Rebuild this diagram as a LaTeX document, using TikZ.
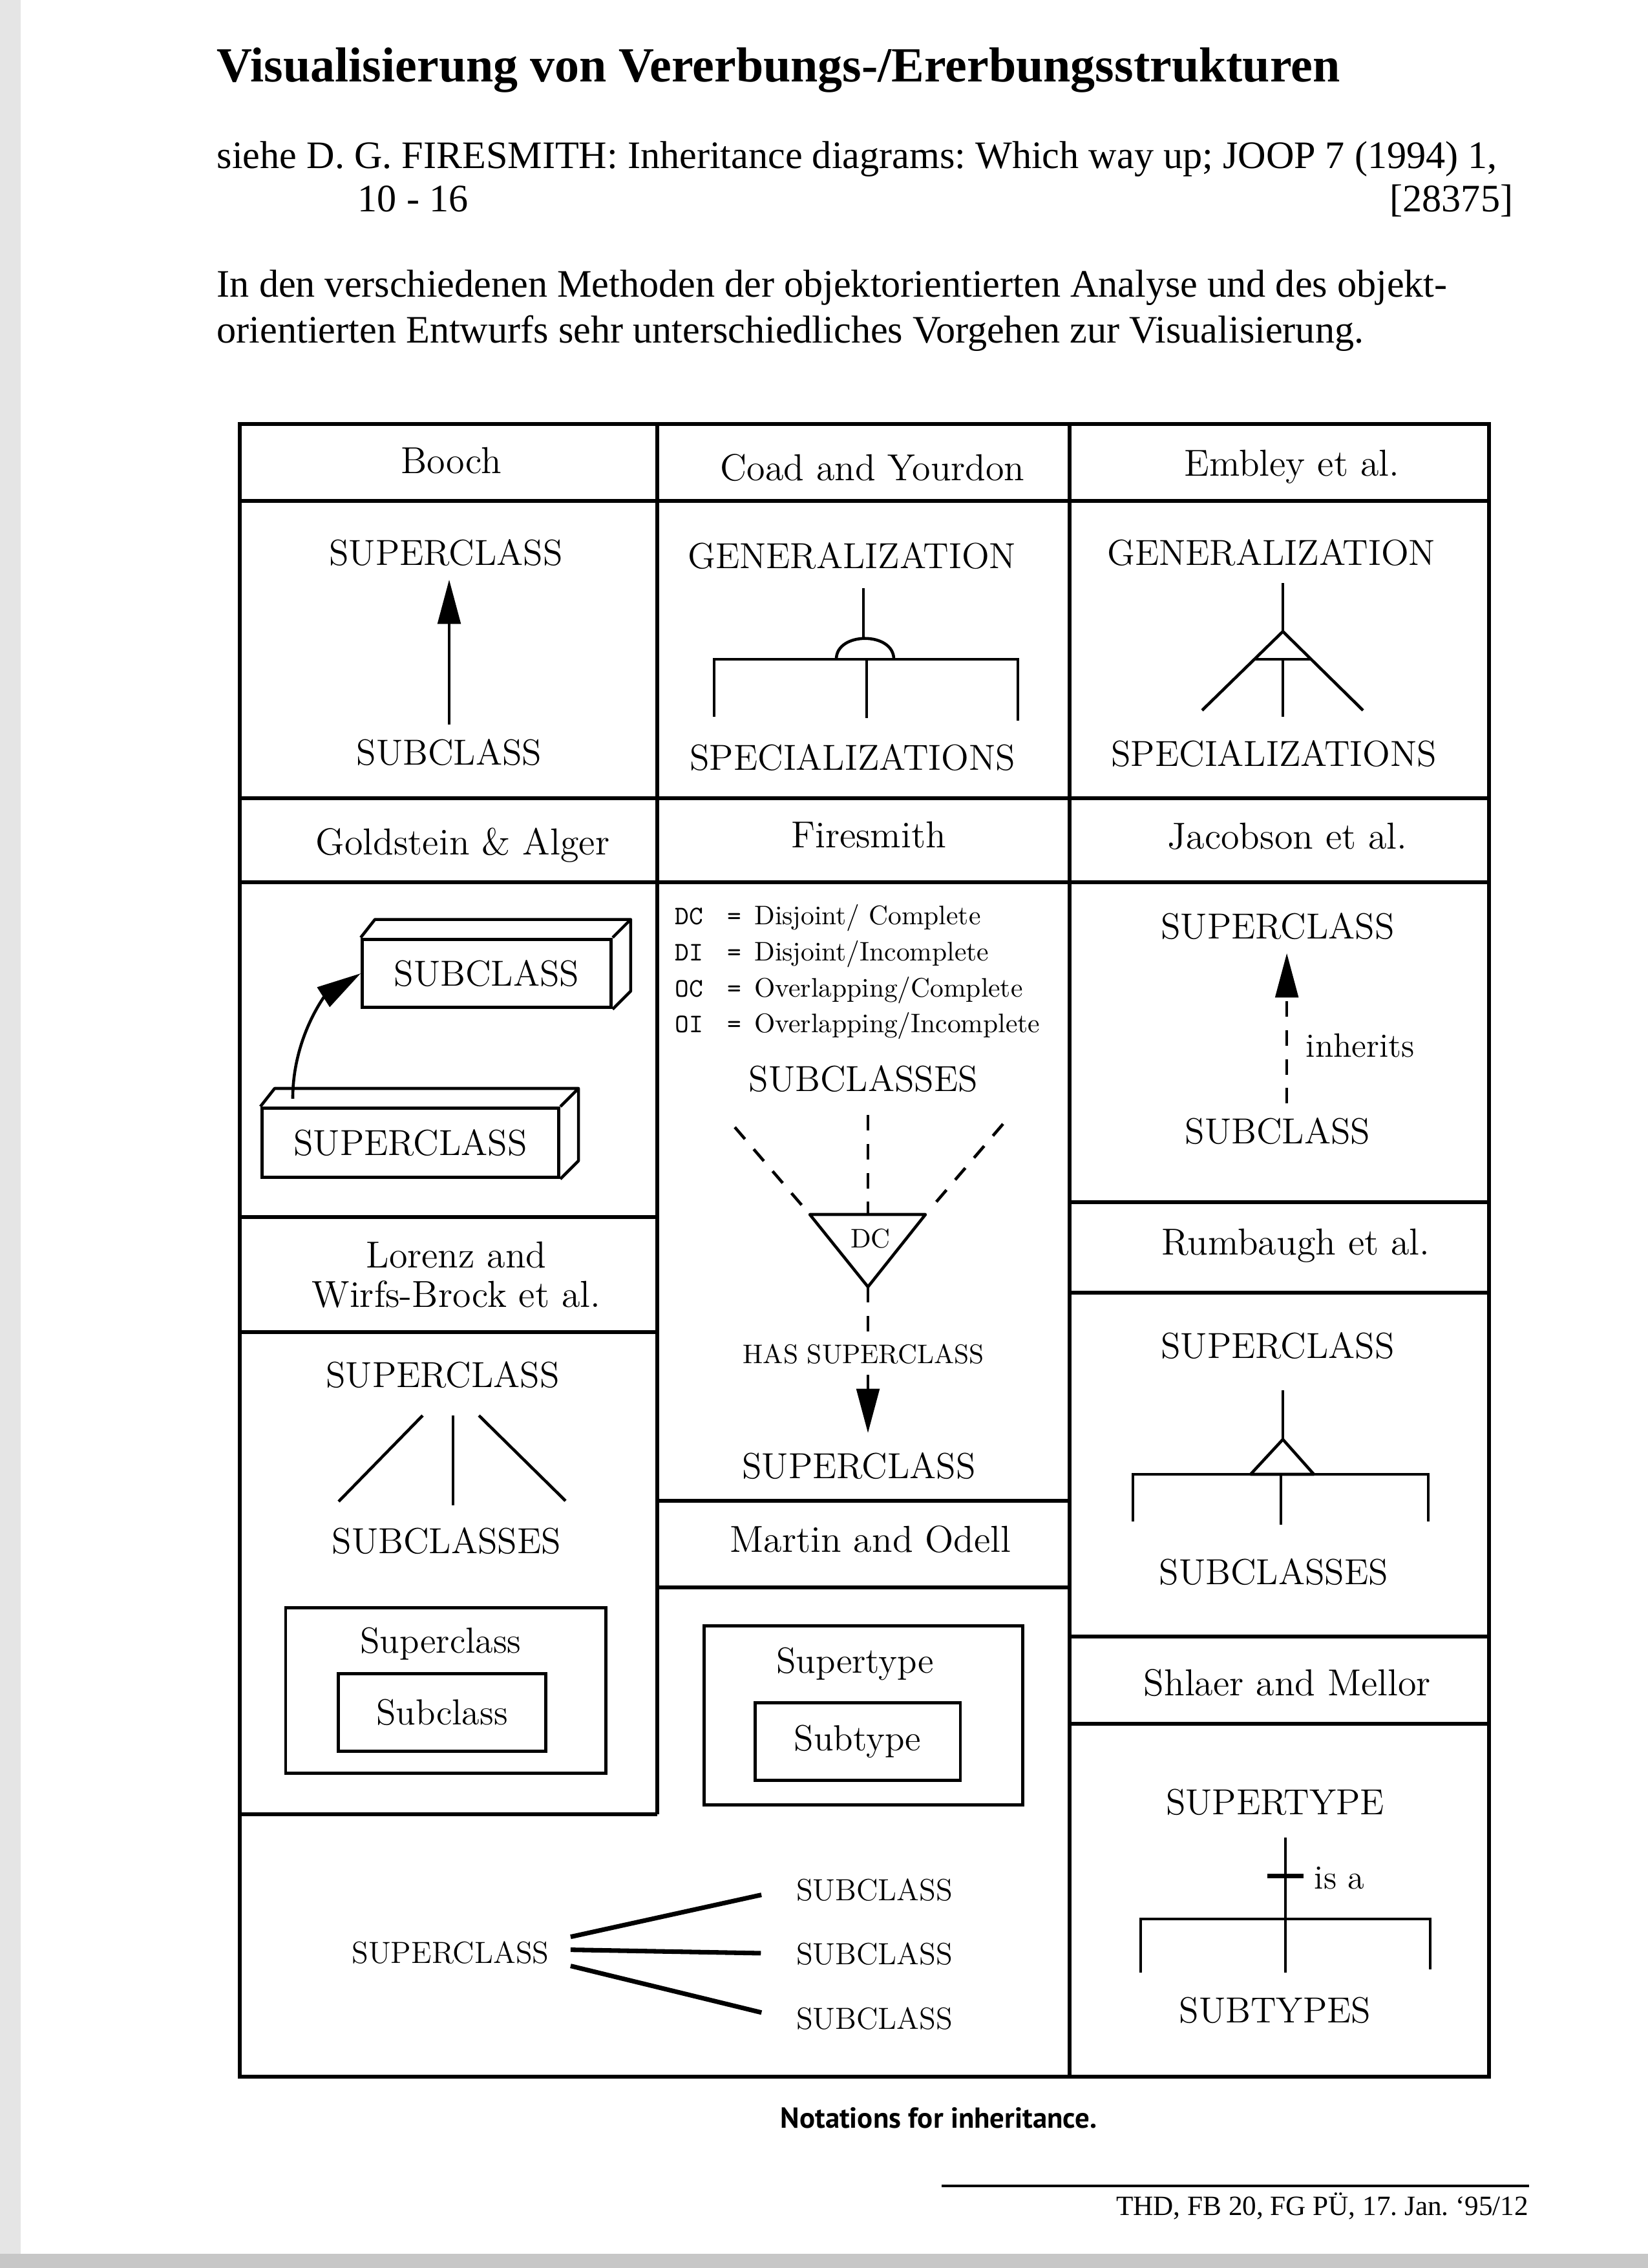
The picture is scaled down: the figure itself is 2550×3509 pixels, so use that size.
\documentclass[tikz,border=0pt]{standalone}
\usepackage{fontspec}
\usepackage{tikz}
\usetikzlibrary{positioning, calc, arrows.meta}
\newfontfamily\timesfont{Liberation Serif}
\newfontfamily\capfont{PT Sans}
\newcommand{\legab}[1]{\makebox[19.5pt][l]{\ttfamily #1}\makebox[10pt][l]{\ttfamily =}}
\frenchspacing

\begin{document}
\begin{tikzpicture}[
    x=0.0846667mm, y=-0.0846667mm,
    tabline/.style={line width=1.5pt},
    ln/.style={line width=1.1pt},
    boxline/.style={draw, line width=1.2pt},
    fanline/.style={line width=1.7pt},
    tri/.style={ln, -{Triangle[length=16.5pt, width=8.5pt]}},
    dsh/.style={ln, dash pattern=on 5.8pt off 5pt},
    hdr/.style={font=\fontsize{14}{14.7}\selectfont, anchor=base, inner sep=0pt},
    lbl/.style={font=\fontsize{13.5}{16}\selectfont, anchor=base, inner sep=5pt},
    word/.style={font=\fontsize{12.6}{15}\selectfont, anchor=base west, inner sep=0pt},
    note/.style={font=\fontsize{10}{12}\selectfont, anchor=base, inner sep=4pt},
    legrow/.style={font=\fontsize{10}{12}\selectfont, anchor=base west, inner sep=0pt},
    fanlbl/.style={font=\fontsize{11.4}{14}\selectfont, anchor=base, inner sep=4pt},
    pagetxt/.style={font=\timesfont\fontsize{14.5}{17}\selectfont, inner sep=0pt},
]
\useasboundingbox (0,0) rectangle (2550,3509);

% scan edges
\fill[black!10] (0,0) rectangle (32,3509);
\fill[black!22] (0,3487) rectangle (2550,3509);

% page text
\node[pagetxt, font=\timesfont\bfseries\fontsize{18.3}{21}\selectfont, anchor=base west] (title) at (335,126) {Visualisierung von Vererbungs-/Ererbungsstrukturen};
\node[pagetxt, anchor=base west] (ref1) at (335,260) {siehe D. G. FIRESMITH: Inheritance diagrams: Which way up; JOOP 7 (1994) 1,};
\node[pagetxt, anchor=base west] (ref2) at (553,327) {10 - 16};
\node[pagetxt, anchor=base east] (refno) at (2342,327) {[28375]};
\node[pagetxt, anchor=base west] (intro1) at (335,459) {In den verschiedenen Methoden der objektorientierten Analyse und des objekt-};
\node[pagetxt, anchor=base west] (intro2) at (335,530) {orientierten Entwurfs sehr unterschiedliches Vorgehen zur Visualisierung.};

% table grid
\draw[tabline] (371,656) rectangle (2304,3213);
\draw[tabline] (1017,656) -- (1017,2807);
\draw[tabline] (1655,656) -- (1655,3213);
\foreach \y in {775, 1235, 1365}
    \draw[tabline] (371,\y) -- (2304,\y);
\foreach \y in {1883, 2061, 2807}
    \draw[tabline] (371,\y) -- (1017,\y);
\foreach \y in {2322, 2456}
    \draw[tabline] (1017,\y) -- (1655,\y);
\foreach \y in {1860, 2000, 2532, 2667}
    \draw[tabline] (1655,\y) -- (2304,\y);

% headers
\node[hdr] (booch)  at (698,732)   {Booch};
\node[hdr] (coad)   at (1350,743)  {Coad and Yourdon};
\node[hdr] (embley) at (1999,736)  {Embley et al.};
\node[hdr] (goldst) at (716,1322)  {Goldstein \& Alger};
\node[hdr] (fires)  at (1344,1311) {Firesmith};
\node[hdr] (jacob)  at (1992,1313) {Jacobson et al.};
\node[hdr, anchor=center, align=center] (lorenz) at (706,1972) {Lorenz and\\Wirfs-Brock et al.};
\node[hdr] (rumb)   at (2005,1941) {Rumbaugh et al.};
\node[hdr] (martin) at (1347,2401) {Martin and Odell};
\node[hdr] (shlaer) at (1992,2623) {Shlaer and Mellor};

% Booch
\node[lbl] (bsup) at (690,874)  {SUPERCLASS};
\node[lbl] (bsub) at (695,1183) {SUBCLASS};
\draw[tri] (bsub.north) -- (bsub.north |- bsup.south);

% Coad and Yourdon
\node[lbl] (cgen)  at (1318,879)  {GENERALIZATION};
\node[lbl] (cspec) at (1319,1191) {SPECIALIZATIONS};
\draw[ln] (1336,910) -- (1336,988);
\draw[ln] (1294,1020) .. controls (1294,977) and (1383,977) .. (1383,1020);
\draw[ln] (1105,1109) -- (1105,1020) -- (1575,1020) -- (1575,1115);
\draw[ln] (1341,1020) -- (1341,1111);

% Embley
\node[lbl] (egen)  at (1967,874)  {GENERALIZATION};
\node[lbl] (espec) at (1971,1185) {SPECIALIZATIONS};
\draw[ln] (1985,902) -- (1985,977);
\draw[ln] (1860,1099) -- (1985,977) -- (2109,1099);
\draw[ln] (1941,1020) -- (2029,1020);
\draw[ln] (1985,1020) -- (1985,1109);

% Goldstein & Alger
\node[boxline, lbl, anchor=center, inner sep=0pt, minimum width=92.7pt, minimum height=25.5pt] (gsub) at (753,1506) {SUBCLASS};
\node[boxline, lbl, anchor=center, inner sep=0pt, minimum width=110.6pt, minimum height=25.8pt] (gsup) at (635,1768) {SUPERCLASS};
\foreach \b in {gsub, gsup}
    \draw[ln, line join=round] (\b.north west) -- ++(22,-28) -- ($(\b.north east)+(28,-28)$)
        -- ($(\b.south east)+(28,-28)$) -- (\b.south east)
        (\b.north east) -- ++(28,-28);
\draw[tri] ($(gsup.north west)+(50,-12)$) .. controls +(0,-95) and +(-55,35) .. (gsub.west);

% Firesmith
\node[legrow] (fl1) at (1044,1430) {\legab{DC}Disjoint/ Complete};
\node[legrow] (fl2) at (1044,1486) {\legab{DI}Disjoint/Incomplete};
\node[legrow] (fl3) at (1044,1542) {\legab{OC}Overlapping/Complete};
\node[legrow] (fl4) at (1044,1597) {\legab{OI}Overlapping/Incomplete};
\node[lbl] (fsubs) at (1336,1688) {SUBCLASSES};
\coordinate (ftl)   at (1253,1879);
\coordinate (ftr)   at (1432,1879);
\coordinate (ftop)  at (1343,1879);
\coordinate (fapex) at (1343,1991);
\coordinate (fdl)   at (1137,1744);
\coordinate (fdr)   at (1552,1739);
\draw[ln, line join=round] (ftl) -- (ftr) -- (fapex) -- cycle;
\node[note] (fdc) at (1347,1930) {DC};
\draw[dsh, shorten >=4.5pt] (fdl) -- (ftl);
\draw[dsh, shorten >=4.5pt] (fdr) -- (ftr);
\draw[dsh, shorten <=3.4pt] (fsubs.south -| ftop) -- (ftop);
\node[note] (fhas) at (1336,2109) {HAS SUPERCLASS};
\node[lbl] (fsup) at (1329,2287) {SUPERCLASS};
\draw[dsh] (fapex) -- (fapex |- fhas.north);
\draw[dsh, tri, shorten >=2pt] (fapex |- fhas.south) -- (fapex |- fsup.north);

% Jacobson
\node[lbl] (jsup) at (1977,1452) {SUPERCLASS};
\node[lbl] (jsub) at (1977,1769) {SUBCLASS};
\draw[dsh, tri] ([xshift=3.4pt]jsub.north) -- ([xshift=3.4pt]jsup.south);
\node[word] (jinh) at (2020,1635) {inherits};

% Lorenz / Wirfs-Brock
\node[lbl] (lsup)  at (685,2146) {SUPERCLASS};
\node[lbl] (lsubs) at (691,2403) {SUBCLASSES};
\draw[ln] (654,2190) -- (524,2323);
\draw[ln] (701,2190) -- (701,2329);
\draw[ln] (741,2190) -- (875,2322);
\draw[boxline] (442,2487) rectangle (937,2743);
\node[lbl] (lsupc) at (682,2557) {Superclass};
\node[boxline, lbl, anchor=center, inner sep=0pt, minimum width=77.1pt, minimum height=28.9pt] (lsubc) at (684,2649) {Subclass};

% Martin and Odell
\draw[boxline] (1089,2515) rectangle (1582,2792);
\node[lbl] (msupt) at (1323,2588) {Supertype};
\node[boxline, lbl, anchor=center, inner sep=0pt, minimum width=76.6pt, minimum height=28.9pt] (msubt) at (1327,2694) {Subtype};

% bottom fan
\node[fanlbl] (bfsup)  at (697,3037)  {SUPERCLASS};
\node[fanlbl] (bfsub1) at (1353,2940) {SUBCLASS};
\node[fanlbl] (bfsub2) at (1353,3039) {SUBCLASS};
\node[fanlbl] (bfsub3) at (1353,3139) {SUBCLASS};
\foreach \n/\dy in {1/-24, 2/-4, 3/21}
    \draw[fanline, shorten >=9pt] ($(bfsup.east)+(16,\dy)$) -- (bfsub\n.west);

% Rumbaugh
\node[lbl] (rsup)  at (1977,2101) {SUPERCLASS};
\node[lbl] (rsubs) at (1971,2451) {SUBCLASSES};
\draw[ln] (1985,2151) -- (1985,2227);
\draw[ln, line join=round] (1985,2227) -- (1935,2281) -- (2033,2281) -- cycle;
\draw[ln] (1753,2354) -- (1753,2281) -- (2210,2281) -- (2210,2354);
\draw[ln] (1982,2281) -- (1982,2359);

% Shlaer and Mellor
\node[lbl] (ssupt) at (1973,2807) {SUPERTYPE};
\node[lbl] (ssubt) at (1973,3129) {SUBTYPES};
\draw[ln] (1989,2843) -- (1989,3052);
\draw[fanline] (1961,2902) -- (2017,2902);
\draw[ln] (1765,3052) -- (1765,2969) -- (2213,2969) -- (2213,3047);
\node[word] (sisa) at (2033,2922) {is a};

% caption and footer
\node[font=\capfont\bfseries\fontsize{10.8}{12}\selectfont, anchor=base west, inner sep=0pt] (capt) at (1207,3292) {Notations for inheritance.};
\coordinate (footl) at (1457,3382);
\coordinate (footr) at (2366,3382);
\draw[line width=1pt] (footl) -- (footr);
\node[pagetxt, font=\timesfont\fontsize{10.4}{12}\selectfont, anchor=base east] (foot) at (2366,3427) {THD, FB 20, FG PÜ, 17. Jan. ‘95/12};

\end{tikzpicture}
\end{document}
